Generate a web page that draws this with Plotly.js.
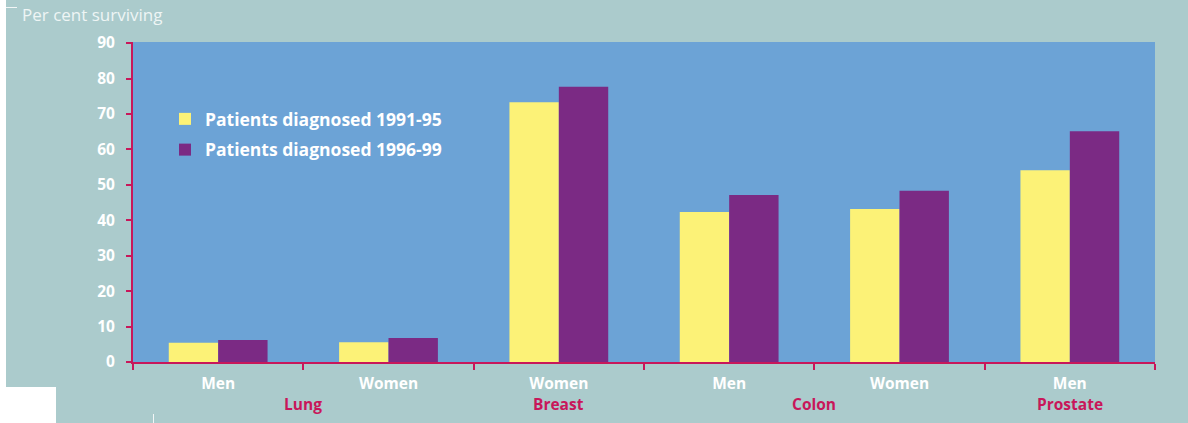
<!DOCTYPE html>
<html>
<head>
<meta charset="utf-8">
<script src="https://cdn.plot.ly/plotly-3.0.1.min.js"></script>
<style>
  html, body { margin: 0; padding: 0; background: #ffffff; }
  #chart { width: 1188px; height: 423px; }
</style>
</head>
<body>
<div id="chart"></div>
<script>
// Five-year survival by cancer site and sex
const sites = ["Lung", "Lung", "Breast", "Colon", "Colon", "Prostate"];
const sexes = ["Men", "Women", "Women", "Men", "Women", "Men"];
const seriesNames = ["Patients diagnosed 1991-95", "Patients diagnosed 1996-99"];
const survival9195 = [5.4, 5.6, 73.3, 42.3, 43.2, 54.1];
const survival9699 = [6.2, 6.8, 77.7, 47.1, 48.3, 65.1];
const yTicks = [0, 10, 20, 30, 40, 50, 60, 70, 80, 90];

const W = 1188, H = 423;
const M = { l: 133, r: 33, t: 42, b: 61 };
const plotW = W - M.l - M.r, plotH = H - M.t - M.b;
const px = x => (x - M.l) / plotW;           // pixel -> paper x
const py = y => (H - M.b - y) / plotH;       // pixel -> paper y

const crimson = "#c8175a";
const catIds = sites.map((s, i) => s + " " + sexes[i]);

const traces = [
  { type: "bar", name: seriesNames[0], x: catIds, y: survival9195,
    marker: { color: "#fcf277", line: { width: 0 } }, legendgroup: "a", hoverinfo: "y" },
  { type: "bar", name: seriesNames[1], x: catIds, y: survival9699,
    marker: { color: "#7b2a84", line: { width: 0 } }, legendgroup: "b", hoverinfo: "y" }
];

// Site labels centred under each site's columns
const siteOrder = [...new Set(sites)];
const siteAnnotations = siteOrder.map(s => {
  const idx = sites.map((v, i) => v === s ? i : -1).filter(i => i >= 0);
  const mid = idx.reduce((a, b) => a + b, 0) / idx.length;
  return {
    x: mid, xref: "x", y: 0, yref: "paper", yshift: -42,
    text: s, showarrow: false, xanchor: "center", yanchor: "middle",
    font: { family: "Open Sans", size: 15.5, color: crimson, weight: 700 }
  };
});

const layout = {
  width: W, height: H,
  margin: M,
  paper_bgcolor: "#abcbcc",
  plot_bgcolor: "#6ca3d6",
  barmode: "group",
  bargap: 0.42,
  bargroupgap: 0,
  showlegend: true,
  legend: {
    x: px(165), y: py(101), xanchor: "left", yanchor: "top",
    bgcolor: "rgba(0,0,0,0)", borderwidth: 0,
    traceorder: "grouped", tracegroupgap: 5,
    font: { family: "Open Sans", size: 17.5, color: "#ffffff", weight: 700 }
  },
  xaxis: {
    type: "category",
    tickvals: catIds, ticktext: sexes,
    tickson: "boundaries",
    ticks: "outside", ticklen: 6, tickwidth: 2, tickcolor: crimson,
    showline: true, linecolor: crimson, linewidth: 2,
    showgrid: false, zeroline: false,
    ticklabelstandoff: 6,
    tickfont: { family: "Open Sans", size: 15.5, color: "#ffffff", weight: 700 },
    fixedrange: true
  },
  yaxis: {
    range: [0, 90.3],
    tickvals: yTicks,
    ticks: "outside", ticklen: 5, tickwidth: 2, tickcolor: crimson,
    showline: true, linecolor: crimson, linewidth: 2,
    showgrid: false, zeroline: false,
    ticklabelstandoff: 8,
    tickfont: { family: "Open Sans", size: 15.5, color: "#ffffff", weight: 700 },
    fixedrange: true
  },
  annotations: [
    {
      x: px(20), xref: "paper", y: py(15), yref: "paper",
      text: "Per cent surviving", showarrow: false,
      xanchor: "left", yanchor: "middle",
      font: { family: "Open Sans", size: 17, color: "#eef5f5" }
    },
    ...siteAnnotations
  ],
  shapes: [
    // white page margins around the tinted panel
    { type: "rect", xref: "paper", yref: "paper", layer: "below",
      x0: px(0), x1: px(6), y0: py(0), y1: py(H),
      fillcolor: "#ffffff", line: { width: 0 } },
    { type: "rect", xref: "paper", yref: "paper", layer: "below",
      x0: px(0), x1: px(56), y0: py(387), y1: py(H),
      fillcolor: "#ffffff", line: { width: 0 } },
    // small rules
    { type: "line", xref: "paper", yref: "paper",
      x0: px(6), x1: px(17), y0: py(7.5), y1: py(7.5),
      line: { color: "#f2f6f6", width: 1 } },
    { type: "line", xref: "paper", yref: "paper",
      x0: px(153.5), x1: px(153.5), y0: py(414), y1: py(H),
      line: { color: "#f2f6f6", width: 1 } }
  ]
};

Plotly.newPlot("chart", traces, layout, { displayModeBar: false, staticPlot: true });
</script>
</body>
</html>
